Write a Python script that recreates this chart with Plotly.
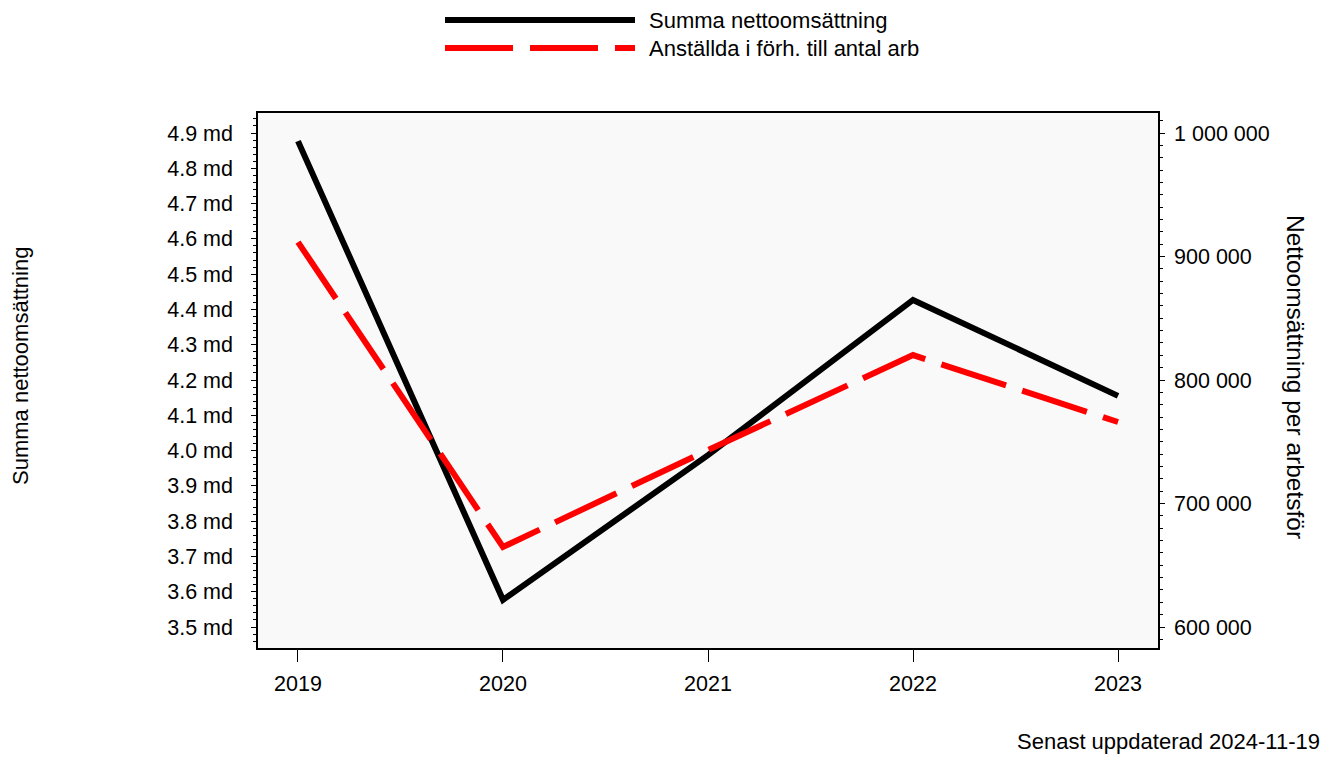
import plotly.graph_objects as go

years = [2019, 2020, 2021, 2022, 2023]
summa_md = [4.877, 3.577, 3.987, 4.427, 4.155]
per_arbetsfor = [911700, 664800, 743300, 820200, 766000]

left_ticks = [3.5, 3.6, 3.7, 3.8, 3.9, 4.0, 4.1, 4.2, 4.3, 4.4, 4.5, 4.6, 4.7, 4.8, 4.9]
left_labels = [f"{v:.1f} md" for v in left_ticks]
right_ticks = [600000, 700000, 800000, 900000, 1000000]
right_labels = ["600 000", "700 000", "800 000", "900 000", "1 000 000"]

name1 = "Summa nettoomsättning"
name2 = "Anställda i förh. till antal arb"

FONT = "Liberation Sans, Arial, sans-serif"
TICK = 21.5
TXT = 22
LW = 6

# plot area in page pixels (page has 8px body margin)
PL, PR, PT, PB = 258, 1158, 113, 648
PW, PH = PR - PL, PB - PT

def px(x):
    return (x - PL) / PW

def py(y):
    return (PB - y) / PH

fig = go.Figure()
fig.add_trace(go.Scatter(x=years, y=summa_md, mode="lines", name=name1,
                         line=dict(color="black", width=LW), yaxis="y"))
fig.add_trace(go.Scatter(x=years, y=per_arbetsfor, mode="lines", name=name2,
                         line=dict(color="red", width=LW, dash="68px,17px"), yaxis="y2"))

fig.update_layout(
    width=1321, height=755,
    margin=dict(l=PL - 8, r=1321 - (PR - 8), t=PT - 8, b=755 - (PB - 8)),
    paper_bgcolor="white",
    plot_bgcolor="#f9f9f9",
    showlegend=False,
    font=dict(family=FONT, size=TICK, color="black"),
    xaxis=dict(range=[2018.805, 2023.195], tickvals=years, ticktext=[str(y) for y in years],
               showgrid=False, zeroline=False, showline=True, linecolor="black", linewidth=1.5,
               mirror=True, ticks="outside", ticklen=12, tickcolor="black", tickwidth=1,
               ticklabelstandoff=3),
    yaxis=dict(range=[3.4405, 4.9567], tickvals=left_ticks, ticktext=left_labels,
               showgrid=False, zeroline=False, showline=True, linecolor="black", linewidth=1.5,
               ticks="outside", ticklen=5, tickcolor="black", tickwidth=1,
               ticklabelstandoff=14,
               minor=dict(dtick=0.02, tick0=3.5, ticks="outside", ticklen=3, tickcolor="black")),
    yaxis2=dict(range=[583000, 1016200], tickvals=right_ticks, ticktext=right_labels,
                overlaying="y", side="right",
                showgrid=False, zeroline=False, showline=True, linecolor="black", linewidth=1.5,
                ticks="outside", ticklen=5, tickcolor="black", tickwidth=1,
                ticklabelstandoff=5,
                minor=dict(dtick=10000, tick0=600000, ticks="outside", ticklen=3, tickcolor="black")),
)

# custom legend
fig.add_shape(type="line", xref="paper", yref="paper", x0=px(445), x1=px(635),
              y0=py(20), y1=py(20), line=dict(color="black", width=LW))
fig.add_shape(type="line", xref="paper", yref="paper", x0=px(445), x1=px(635),
              y0=py(48), y1=py(48), line=dict(color="red", width=LW, dash="68px,17px"))
fig.add_annotation(text=name1, xref="paper", yref="paper", x=px(647), y=py(21),
                   xanchor="left", yanchor="middle", showarrow=False, font=dict(size=TXT))
fig.add_annotation(text=name2, xref="paper", yref="paper", x=px(647), y=py(49),
                   xanchor="left", yanchor="middle", showarrow=False, font=dict(size=TXT))

# axis titles
fig.add_annotation(text="Summa nettoomsättning", xref="paper", yref="paper",
                   x=px(20), y=py(366), textangle=-90, showarrow=False,
                   xanchor="center", yanchor="middle", font=dict(size=TXT))
fig.add_annotation(text="Nettoomsättning per arbetsför", xref="paper", yref="paper",
                   x=px(1296), y=py(377), textangle=90, showarrow=False,
                   xanchor="center", yanchor="middle", font=dict(size=24.5))

fig.add_annotation(text="Senast uppdaterad 2024-11-19", xref="paper", yref="paper",
                   x=px(1322), y=py(742), xanchor="right", yanchor="middle",
                   showarrow=False, font=dict(size=TXT))

fig.write_html("out.html")
